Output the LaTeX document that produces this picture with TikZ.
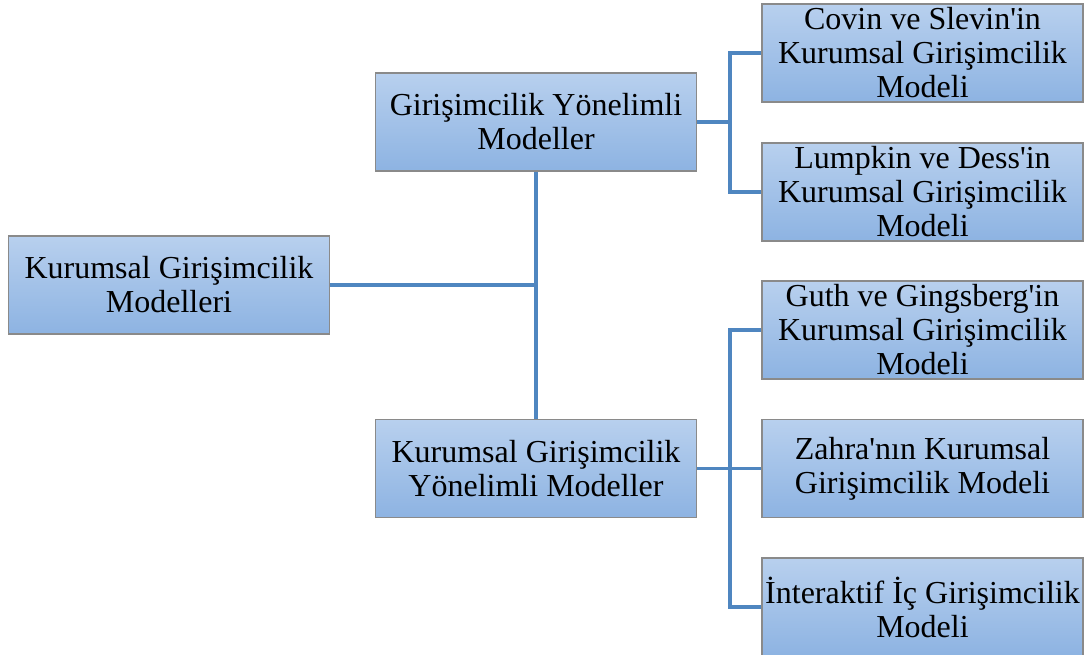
\documentclass[tikz,border=0pt]{standalone}
\usepackage{fontspec}
\setmainfont{Liberation Serif}[Ligatures=TeXOff]
\begin{document}
\begin{tikzpicture}[x=0.75pt,y=-0.75pt,
  modelbox/.style={draw=boxedge, line width=1.1pt, top color=boxtop, bottom color=boxbottom,
    minimum width=240.75pt, minimum height=73.5pt, inner sep=0pt, align=center,
    font=\fontsize{24}{25.5}\selectfont},
  link/.style={draw=linkblue, line width=2.4pt}]
\definecolor{boxtop}{HTML}{B8D0EE}
\definecolor{boxbottom}{HTML}{8DB3E2}
\definecolor{boxedge}{HTML}{8A8A8A}
\definecolor{linkblue}{HTML}{4F86C0}
\useasboundingbox (0,0) rectangle (1092,655);

% hierarchy boxes
\node[modelbox] (root) at (169,285) {Kurumsal Girişimcilik\\Modelleri};
\node[modelbox] (g1) at (536,122) {Girişimcilik Yönelimli\\Modeller};
\node[modelbox] (g2) at (536,468.5) {Kurumsal Girişimcilik\\Yönelimli Modeller};
\node[modelbox] (l1) at (922.5,53) {Covin ve Slevin'in\\Kurumsal Girişimcilik\\Modeli};
\node[modelbox] (l2) at (922.5,192) {Lumpkin ve Dess'in\\Kurumsal Girişimcilik\\Modeli};
\node[modelbox] (l3) at (922.5,330) {Guth ve Gingsberg'in\\Kurumsal Girişimcilik\\Modeli};
\node[modelbox] (l4) at (922.5,468.5) {Zahra'nın Kurumsal\\Girişimcilik Modeli};
\node[modelbox] (l5) at (922.5,607) {İnteraktif İç Girişimcilik\\Modeli};

% junction points of the branches
\coordinate (j1) at (730,122);
\coordinate (j2) at (730,468.5);

% connectors
\draw[link] (g1.south) -- (g2.north);
\draw[link] (root.east) -- (root.east -| g1.south);
\draw[link] (g1.east) -- (j1);
\draw[link] (l1.west) -| (j1);
\draw[link] (l2.west) -| (j1);
\draw[link] (g2.east) -- (l4.west);
\draw[link] (l3.west) -| (j2);
\draw[link] (l5.west) -| (j2);
\end{tikzpicture}
\end{document}
